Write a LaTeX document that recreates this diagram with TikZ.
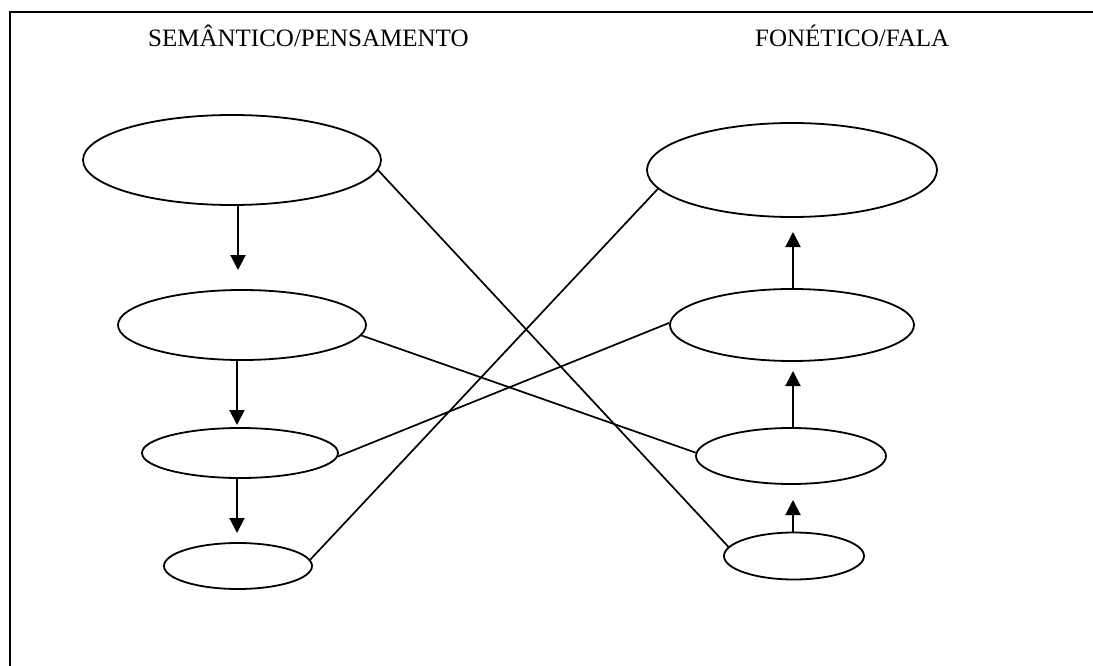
\documentclass[tikz,border=0pt]{standalone}
\usepackage{fontspec}
\setmainfont{Liberation Serif}
\usetikzlibrary{shapes.geometric,arrows.meta}

\begin{document}
\begin{tikzpicture}[x=1pt,y=-1pt,
  bubble/.style={draw, ellipse, line width=1.8pt, inner sep=0pt},
  link/.style={line width=1.7pt},
  flow/.style={line width=2pt, -{Triangle[length=15pt,width=15pt]}},
  heading/.style={inner sep=0pt, anchor=base west, font=\fontsize{25}{30}\selectfont}]

\useasboundingbox (0,0) rectangle (1093,666);

% open frame: left and top edges only
\draw[line width=2.4pt] (10,670) -- (10,12) -- (1097,12);

% column headings
\node[heading] (hs) at (148,47) {SEMÂNTICO/PENSAMENTO};
\node[heading] (hf) at (755,47) {FONÉTICO/FALA};

% semantic column
\node[bubble, minimum width=298pt, minimum height=90pt] (s1) at (232,160) {};
\node[bubble, minimum width=248pt, minimum height=70pt] (s2) at (242,325) {};
\node[bubble, minimum width=196pt, minimum height=50pt] (s3) at (240,453) {};
\node[bubble, minimum width=148pt, minimum height=46pt] (s4) at (238,566) {};

% phonetic column
\node[bubble, minimum width=290pt, minimum height=94pt] (f1) at (792,170) {};
\node[bubble, minimum width=244pt, minimum height=72pt] (f2) at (792,325) {};
\node[bubble, minimum width=190pt, minimum height=56pt] (f3) at (791,456) {};
\node[bubble, minimum width=140pt, minimum height=47pt] (f4) at (794,556) {};

% arrow tips
\coordinate (ta) at (238,270);
\coordinate (tb) at (237,425);
\coordinate (tc) at (237,533);
\coordinate (td) at (793,232);
\coordinate (te) at (793,371);
\coordinate (tf) at (793,500);

% downward steps on the semantic side
\draw[flow] (ta |- s1.south) -- (ta);
\draw[flow] (tb |- s2.south) -- (tb);
\draw[flow] (tc |- s3.south) -- (tc);

% upward steps on the phonetic side
\draw[flow] (td |- f2.north) -- (td);
\draw[flow] (te |- f3.north) -- (te);
\draw[flow] (tf |- f4.north) -- (tf);

% crossing links between the columns
\draw[link] (s1.-4) -- (f4.172);
\draw[link] (s2.-5) -- (f3.178);
\draw[link] (s3.-2) -- (f2.179);
\draw[link] (s4.5) -- (f1.188);

\end{tikzpicture}
\end{document}
